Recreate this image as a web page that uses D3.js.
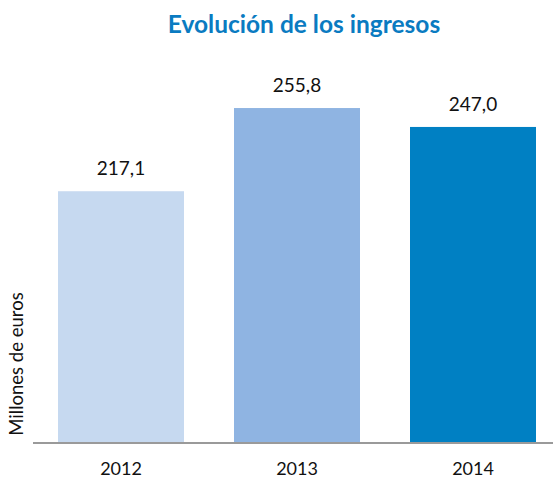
<!DOCTYPE html>
<html>
<head>
<meta charset="utf-8">
<script src="https://cdn.jsdelivr.net/npm/d3@7"></script>
<style>
  html, body { margin: 0; padding: 0; background: #fff; }
  svg { display: block; font-family: Lato, "Open Sans", sans-serif; }
</style>
</head>
<body>
<svg id="chart" width="553" height="479"></svg>
<script>
// Ingresos anuales (millones de euros)
const years = ["2012", "2013", "2014"];
const revenue = [217.1, 255.8, 247.0];
const valueLabels = ["217,1", "255,8", "247,0"];
const barColors = ["#c6d9f0", "#8fb4e2", "#0080c3"];

const title = "Evolución de los ingresos";
const yTitle = "Millones de euros";

const svg = d3.select("#chart");

const x = d3.scaleBand()
  .domain(years)
  .range([33, 561])
  .paddingInner(50 / 176)
  .paddingOuter(25 / 176);

const y = d3.scaleLinear()
  .domain([100, 300])
  .range([443, 13]);

// Title
svg.append("text")
  .attr("x", 304)
  .attr("y", 33)
  .attr("text-anchor", "middle")
  .attr("font-size", 24.5)
  .attr("font-weight", "bold")
  .attr("fill", "#0a7bc1")
  .text(title);

// Bars
svg.append("g")
  .selectAll("rect")
  .data(years)
  .join("rect")
  .attr("x", d => x(d))
  .attr("y", (d, i) => y(revenue[i]))
  .attr("width", x.bandwidth())
  .attr("height", (d, i) => y.range()[0] - y(revenue[i]))
  .attr("fill", (d, i) => barColors[i]);

// Value labels
svg.append("g")
  .selectAll("text")
  .data(years)
  .join("text")
  .attr("x", d => x(d) + x.bandwidth() / 2)
  .attr("y", (d, i) => y(revenue[i]) - 16)
  .attr("text-anchor", "middle")
  .attr("font-size", 19)
  .attr("fill", "#111")
  .text((d, i) => valueLabels[i]);

// Category axis
const xAxis = svg.append("g")
  .attr("transform", `translate(0,${y.range()[0]})`)
  .call(d3.axisBottom(x).tickSize(0).tickPadding(19));
xAxis.select(".domain")
  .attr("stroke", "#9a9a9a")
  .attr("stroke-width", 2)
  .attr("d", "M33,0H553");
xAxis.selectAll("text")
  .attr("font-size", 18)
  .attr("fill", "#111")
  .attr("font-family", "Lato, 'Open Sans', sans-serif");

// Y axis title
svg.append("text")
  .attr("transform", "translate(23,364) rotate(-90)")
  .attr("text-anchor", "middle")
  .attr("font-size", 18.5)
  .attr("fill", "#111")
  .text(yTitle);
</script>
</body>
</html>
